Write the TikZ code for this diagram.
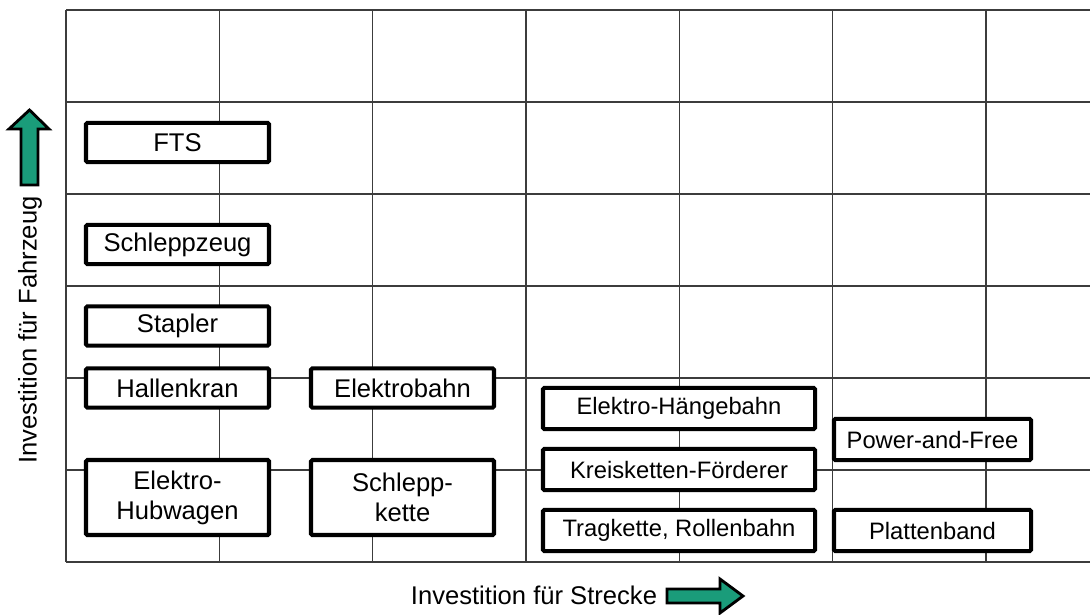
\documentclass[tikz,border=0pt]{standalone}
\usepackage{fontspec}
\setmainfont{Liberation Sans}
\usepackage{tikz}
\usetikzlibrary{positioning}
\definecolor{arrowgreen}{RGB}{26,156,122}
\definecolor{gridgray}{RGB}{60,60,60}

\begin{document}
\begin{tikzpicture}[
  x=0.025cm, y=-0.025cm,
  font=\fontsize{18.2}{21.3}\selectfont,
  gridline/.style={draw=gridgray, line width=1.1pt},
  sys/.style={draw=black, line width=2.9pt, rounded corners=1pt, fill=white,
              inner sep=0pt, align=center, minimum height=0.98cm},
  smallsys/.style={sys, minimum width=4.575cm},
  widesys/.style={sys, minimum width=6.8cm, minimum height=1.03cm,
                  font=\fontsize{16.9}{20}\selectfont},
  rightsys/.style={widesys, minimum width=4.925cm},
  tallsys/.style={smallsys, minimum height=1.875cm},
  axisarrow/.style={draw=black, line width=2pt, fill=arrowgreen, line join=miter},
]
\useasboundingbox (0,0) rectangle (1090,614);

% ===================== grid =====================
\foreach \i in {0,...,6}
  \draw[gridline] ({66+153.33*\i},10) -- ({66+153.33*\i},562);
\foreach \j in {0,...,6}
  \draw[gridline] (66,{10+92*\j}) -- (1090,{10+92*\j});

% ===================== left column =====================
\node[smallsys] (fts)      at (177.5,142.5) {FTS};
\node[smallsys] (schlzeug) at (177.5,244.5) {Schleppzeug};
\node[smallsys] (stapler)  at (177.5,326)   {Stapler};
\node[smallsys] (halle)    at (177.5,388)   {Hallenkran};
\node[tallsys]  (hubwagen) at (177.5,497.5) {Elektro-\\Hubwagen};

% ===================== second column =====================
\node[smallsys] (ebahn)    at (402.5,388)   {Elektrobahn};
\node[tallsys]  (schlkette) at (402.5,497.5) {Schlepp-\\kette};

% ===================== right block =====================
\node[widesys]  (ehb)      at (679,408.5)   {Elektro-Hängebahn};
\node[widesys]  (kreis)    at (679,469.5)   {Kreisketten-Förderer};
\node[widesys]  (trag)     at (679,530.5)   {Tragkette, Rollenbahn};
\node[rightsys] (pf)       at (932.5,439.5) {Power-and-Free};
\node[rightsys] (platten)  at (932.5,530.5) {Plattenband};

% ===================== axes =====================
\node[anchor=east] (xlabel) at (662,595) {Investition für Strecke};
\draw[axisarrow] (667,589) -- (720,589) -- (720,579) -- (743,596)
  -- (720,613) -- (720,603) -- (667,603) -- cycle;

\node[rotate=90] (ylabel) at (30,330) {Investition für Fahrzeug};
\draw[axisarrow] (21,185) -- (21,129) -- (9,129) -- (29.5,110)
  -- (49,129) -- (38,129) -- (38,185) -- cycle;

\end{tikzpicture}
\end{document}
